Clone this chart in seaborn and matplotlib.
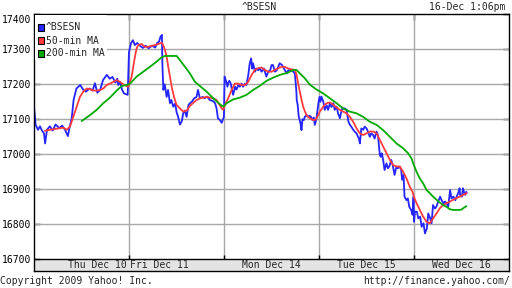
import numpy as np
import pandas as pd
import matplotlib
matplotlib.use("Agg")
import matplotlib.pyplot as plt
import matplotlib.transforms as mtransforms
from matplotlib.patches import Rectangle
import seaborn as sns

# ---------------- data (time in trading-day units, 0 = Thu Dec 10 open) -------------
bsesn_t = [0.00,0.02,0.045,0.066,0.087,0.108,0.12,0.14,0.17,0.20,0.23,0.27,0.30,0.33,0.36,0.38,0.40,0.42,0.45,0.49,0.52,0.55,0.59,0.62,0.645,0.67,0.70,0.73,0.77,0.80,0.83,0.86,0.88,0.89,0.91,0.93,0.95,0.97,0.99,
           1.003,1.01,1.025,1.045,1.065,1.09,1.12,1.15,1.18,1.21,1.245,1.28,1.30,1.32,1.335,1.35,1.355,1.365,1.38,1.40,1.415,1.435,1.45,1.47,1.49,1.505,1.52,1.54,1.56,1.575,1.59,1.61,1.63,1.645,1.665,1.69,1.715,1.73,1.75,1.78,1.80,1.825,1.855,1.89,1.91,1.925,1.94,1.96,1.98,
           2.003,2.01,2.025,2.04,2.05,2.06,2.075,2.085,2.10,2.12,2.135,2.155,2.17,2.19,2.205,2.225,2.24,2.26,2.275,2.29,2.30,2.31,2.33,2.345,2.365,2.38,2.40,2.425,2.45,2.47,2.49,2.505,2.52,2.54,2.56,2.59,2.615,2.635,2.665,2.68,2.70,2.72,2.75,2.765,2.77,2.78,2.79,2.80,2.81,2.82,2.83,2.845,2.855,2.875,2.89,2.905,2.92,2.935,2.95,2.96,2.975,
           3.00,3.01,3.02,3.03,3.05,3.065,3.085,3.10,3.12,3.135,3.155,3.17,3.19,3.205,3.225,3.235,3.25,3.275,3.295,3.305,3.315,3.33,3.345,3.365,3.38,3.40,3.415,3.425,3.435,3.45,3.47,3.485,3.505,3.52,3.54,3.555,3.575,3.59,3.61,3.625,3.645,3.655,3.665,3.68,3.695,3.715,3.73,3.745,3.765,3.78,3.80,3.82,3.835,3.855,3.87,3.88,3.895,3.905,3.925,3.94,3.955,3.975,3.99,
           4.00,4.005,4.015,4.035,4.05,4.07,4.085,4.105,4.12,4.14,4.155,4.175,4.19,4.205,4.225,4.24,4.26,4.28,4.295,4.315,4.33,4.35,4.365,4.385,4.40,4.42,4.44,4.455,4.475,4.485,4.49,4.51,4.52,4.535,4.545,4.555,4.56]
bsesn_v = [17147,17085,17070,17080,17068,17060,17031,17070,17080,17068,17085,17075,17082,17070,17052,17080,17102,17155,17188,17198,17185,17179,17188,17182,17203,17176,17184,17212,17227,17216,17221,17205,17216,17198,17207,17185,17174,17172,17170,
           17290,17300,17318,17326,17312,17318,17310,17304,17310,17303,17310,17305,17318,17322,17336,17341,17260,17184,17200,17164,17184,17146,17155,17136,17145,17120,17108,17085,17095,17118,17125,17107,17141,17146,17150,17160,17164,17184,17160,17164,17160,17165,17155,17152,17146,17132,17103,17098,17090,
           17107,17222,17210,17193,17205,17210,17202,17188,17170,17193,17185,17198,17193,17202,17193,17202,17198,17227,17260,17274,17245,17260,17236,17245,17240,17246,17236,17245,17222,17236,17240,17255,17255,17236,17240,17260,17255,17245,17231,17240,17241,17240,17231,17184,17155,17141,17110,17098,17088,17069,17100,17098,17107,17112,17107,17110,17107,17098,17105,17084,17098,
           17150,17164,17150,17165,17150,17127,17140,17127,17146,17135,17146,17127,17136,17117,17103,17117,17131,17131,17127,17108,17093,17084,17079,17070,17065,17060,17050,17045,17031,17074,17070,17079,17074,17065,17050,17060,17055,17045,17065,17055,16998,16993,17003,16984,16955,16974,16960,16965,16984,16970,16941,16965,16960,16965,16955,16927,16941,16879,16869,16874,16850,16841,16827,
           16879,16807,16836,16836,16817,16822,16793,16803,16774,16788,16831,16817,16803,16855,16845,16850,16865,16879,16869,16860,16865,16860,16850,16898,16874,16879,16869,16879,16893,16903,16884,16879,16903,16889,16884,16893,16889]

ma50_t = [0.119,0.172,0.242,0.312,0.347,0.382,0.417,0.453,0.487,0.522,0.558,0.593,0.627,0.663,0.698,0.733,0.768,0.803,0.838,0.874,0.908,0.943,0.979,0.996,
          1.014,1.032,1.048,1.066,1.084,1.101,1.137,1.172,1.206,1.242,1.277,1.312,1.347,1.364,1.382,1.400,1.417,1.435,1.453,1.469,1.487,1.505,1.540,1.575,1.611,1.645,1.680,1.716,1.751,1.785,1.821,1.856,1.891,1.926,1.943,1.961,1.979,1.996,
          2.014,2.048,2.084,2.119,2.154,2.189,2.224,2.259,2.295,2.329,2.364,2.400,2.435,2.469,2.505,2.540,2.575,2.611,2.645,2.680,2.716,2.751,2.768,2.785,2.803,2.821,2.838,2.856,2.874,2.891,2.908,2.943,2.972,2.996,
          3.014,3.048,3.084,3.119,3.154,3.189,3.224,3.259,3.295,3.329,3.364,3.400,3.435,3.469,3.505,3.540,3.575,3.611,3.645,3.680,3.716,3.751,3.785,3.821,3.856,3.891,3.926,3.961,3.989,
          4.003,4.032,4.066,4.101,4.137,4.171,4.206,4.242,4.277,4.312,4.347,4.382,4.417,4.453,4.487,4.522,4.558]
ma50_v = [17067,17070,17073,17076,17070,17079,17107,17136,17164,17179,17188,17186,17182,17182,17184,17188,17198,17202,17207,17212,17207,17200,17195,17193,
          17207,17222,17250,17279,17303,17312,17315,17307,17307,17310,17312,17315,17319,17312,17298,17279,17250,17222,17193,17174,17155,17141,17131,17122,17125,17138,17147,17155,17160,17162,17164,17162,17160,17155,17146,17140,17131,17127,
          17141,17160,17184,17202,17202,17198,17198,17207,17227,17241,17246,17248,17241,17236,17236,17241,17246,17250,17250,17245,17243,17241,17227,17202,17179,17155,17136,17122,17112,17107,17103,17098,17099,17112,
          17122,17136,17146,17148,17142,17134,17127,17122,17117,17107,17093,17074,17060,17055,17060,17065,17065,17060,17041,17022,17003,16984,16969,16965,16965,16950,16931,16907,16893,
          16879,16860,16841,16822,16807,16803,16817,16831,16846,16855,16860,16865,16870,16875,16879,16884,16889]

ma200_t = [0.505,0.593,0.663,0.733,0.803,0.874,0.926,0.979,
           1.014,1.084,1.154,1.224,1.295,1.347,1.382,1.505,1.540,1.593,1.645,1.698,1.751,1.821,1.891,1.961,1.996,
           2.032,2.101,2.172,2.242,2.312,2.383,2.453,2.522,2.593,2.674,2.733,2.768,2.803,2.856,2.908,2.979,
           3.048,3.119,3.189,3.259,3.329,3.400,3.469,3.540,3.611,3.680,3.751,3.821,3.891,3.943,3.979,3.996,
           4.032,4.066,4.101,4.137,4.171,4.206,4.242,4.277,4.312,4.347,4.382,4.417,4.469,4.505,4.529,4.558]
ma200_v = [17095,17112,17127,17146,17162,17182,17195,17198,
           17202,17222,17236,17250,17265,17277,17281,17281,17269,17250,17231,17207,17195,17179,17160,17143,17136,
           17146,17157,17162,17170,17184,17196,17210,17219,17227,17233,17241,17241,17231,17217,17199,17185,
           17174,17160,17146,17131,17122,17117,17107,17093,17084,17069,17050,17031,17017,17003,16988,16974,
           16950,16931,16917,16898,16889,16879,16870,16862,16855,16850,16843,16841,16841,16842,16847,16852]

series_names = ["^BSESN", "50-min MA", "200-min MA"]
series_colors = ["#2424ff", "#ff3b3b", "#00aa00"]
y_ticks = [16700, 16800, 16900, 17000, 17100, 17200, 17300, 17400]
day_bounds = [1, 2, 3, 4]
day_labels = ["Thu Dec 10", "Fri Dec 11", "Mon Dec 14", "Tue Dec 15", "Wed Dec 16"]
title = "^BSESN"
stamp = "16-Dec 1:06pm"
footer_left = "Copyright 2009 Yahoo! Inc."
footer_right = "http://finance.yahoo.com/"

# ---------------- figure ----------------
sns.set_style("white")
plt.rcParams["font.family"] = ["DejaVu Sans Mono", "DejaVu Sans"]
W, H = 512, 288
fig = plt.figure(figsize=(W / 100, H / 100), dpi=100)

def fx(px):
    return px / W

def fy(py):
    return 1 - py / H

ax_left, ax_right, ax_top, ax_bot = 33.7, 508.5, 14.3, 271.0
ax = fig.add_axes([fx(ax_left), fy(ax_bot), fx(ax_right - ax_left), (ax_bot - ax_top) / H])

ymax = y_ticks[-1]
ymin_plot = y_ticks[0]
units_per_px = (ymax - ymin_plot) / (259.3 - ax_top)
ymin = ymax - (ax_bot - ax_top) * units_per_px
ax.set_xlim(0, 5)
ax.set_ylim(ymin, ymax)

# gray date band
ax.axhspan(ymin, ymin_plot, color="#e4e4e4", zorder=0.5, lw=0)
ax.axhline(ymin_plot, color="black", lw=1, zorder=3)

# grid
for yv in y_ticks[1:-1]:
    ax.axhline(yv, color="#a8a8a8", lw=1, zorder=1)
ax.vlines(day_bounds, ymin_plot, ymax, color="#a8a8a8", lw=1, zorder=1)
ax.vlines(day_bounds, ymin_plot, ymin_plot + 4.5 * units_per_px, color="black", lw=1, zorder=3)

df = pd.concat([
    pd.DataFrame({"t": bsesn_t, "v": bsesn_v, "s": series_names[0]}),
    pd.DataFrame({"t": ma50_t, "v": ma50_v, "s": series_names[1]}),
    pd.DataFrame({"t": ma200_t, "v": ma200_v, "s": series_names[2]}),
], ignore_index=True)

sns.lineplot(data=df, x="t", y="v", hue="s", hue_order=series_names,
             palette=dict(zip(series_names, series_colors)),
             estimator=None, sort=False, legend=False, lw=1.3, ax=ax, zorder=2)
for ln in ax.get_lines()[-3:]:
    pass

ax.set_xlabel("")
ax.set_ylabel("")
ax.set_yticks(y_ticks)
ax.set_yticklabels([str(v) for v in y_ticks])
ax.set_xticks(day_bounds)
ax.set_xticklabels([])
ax.tick_params(axis="y", direction="in", length=4, width=1, color="black",
               left=True, right=True, labelsize=7, pad=1.5, labelcolor="black")
ax.tick_params(axis="x", direction="in", length=4, width=1, color="black",
               top=True, bottom=False)
for sp in ax.spines.values():
    sp.set_color("black")
    sp.set_linewidth(1)

# shift top label down a little as in the reference
offset = mtransforms.ScaledTranslation(0, -5 / 100, fig.dpi_scale_trans)
lbl = ax.get_yticklabels()[-1]
lbl.set_transform(lbl.get_transform() + offset)

# day labels in band
band_mid = (ymin + ymin_plot) / 2
ax.text(0.982, band_mid, day_labels[0], ha="right", va="center", fontsize=7, zorder=4)
ax.text(1.013, band_mid, day_labels[1], ha="left", va="center", fontsize=7, zorder=4)
for i, lab in enumerate(day_labels[2:], start=2):
    ax.text(i + 0.5, band_mid, lab, ha="center", va="center", fontsize=7, zorder=4)

# legend (manual, white background box)
fig.add_artist(Rectangle((fx(34.5), fy(60)), fx(107 - 34.5), (60 - 15) / H,
                         transform=fig.transFigure, facecolor="white", edgecolor="none", zorder=5))
rows = [27.3, 40.5, 53.3]
for name, col, ry in zip(series_names, series_colors, rows):
    fig.add_artist(Rectangle((fx(37.5), fy(ry + 3.3)), fx(6), 6.6 / H,
                             transform=fig.transFigure, facecolor=col, edgecolor="black",
                             lw=0.8, zorder=6))
    fig.text(fx(46), fy(ry), name, ha="left", va="center", fontsize=7, zorder=7)

fig.text(fx(259), fy(7), title, ha="center", va="center", fontsize=7)
fig.text(fx(505), fy(7), stamp, ha="right", va="center", fontsize=7)
fig.text(fx(0), fy(281.5), footer_left, ha="left", va="center", fontsize=7)
fig.text(fx(510), fy(281.5), footer_right, ha="right", va="center", fontsize=7)

fig.savefig("out.png", dpi=100, facecolor="white")
